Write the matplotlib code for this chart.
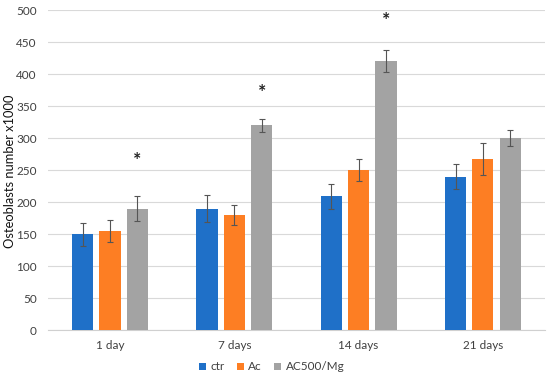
import matplotlib
matplotlib.use("Agg")
import matplotlib.pyplot as plt
import numpy as np

plt.rcParams['font.family'] = ['Lato', 'DejaVu Sans']

categories = ["1 day", "7 days", "14 days", "21 days"]
series_names = ["ctr", "Ac", "AC500/Mg"]
ctr = [150, 190, 209, 240]
ac = [155, 180, 250, 268]
ac500 = [190, 320, 420, 300]
ctr_err = [18, 21, 20, 19]
ac_err = [17, 15, 17, 25]
ac500_err = [20, 10, 17, 12]
star_values = [265, 372, 484]
star_categories = [0, 1, 2]

colors = ["#1F70C8", "#FD7E23", "#A3A3A3"]

fig = plt.figure(figsize=(5.5, 3.76), dpi=100)
ax = fig.add_axes([0.087, 0.122, 0.904, 0.851])

x = np.arange(len(categories))
w = 0.17
gap = 0.05
offsets = [-(w + gap), 0, (w + gap)]
data = [ctr, ac, ac500]
errs = [ctr_err, ac_err, ac500_err]
for i in range(3):
    ax.bar(x + offsets[i], data[i], width=w, color=colors[i], label=series_names[i], zorder=3)
    ax.errorbar(x + offsets[i], data[i], yerr=errs[i], fmt='none', ecolor='#555555',
                elinewidth=0.8, capsize=2.5, capthick=0.8, zorder=4)

for c, v in zip(star_categories, star_values):
    ax.text(x[c] + offsets[2], v, "*", ha='center', va='center', fontsize=14, color='#222222', fontweight='bold')

ax.set_xlim(-0.5, len(categories) - 0.5)
ax.set_ylim(0, 500)
ax.set_yticks(np.arange(0, 501, 50))
ax.set_xticks(x)
ax.set_xticklabels(categories)
ax.grid(axis='y', color='#D9D9D9', linewidth=0.8, zorder=0)
for s in ['top', 'right', 'left']:
    ax.spines[s].set_visible(False)
ax.spines['bottom'].set_color('#D0D0D0')
ax.tick_params(axis='y', length=0, labelsize=8.5, colors='#404040', pad=8)
ax.tick_params(axis='x', length=0, labelsize=8.5, colors='#404040', pad=7)
ax.set_ylabel("Osteoblasts number x1000", fontsize=9.3, color='#111111')
ax.yaxis.set_label_coords(-0.064, 0.497)

ax.legend(loc='center', bbox_to_anchor=(0.45, -0.115), ncol=3, frameon=False,
          fontsize=8.5, handlelength=0.6, handleheight=0.6, handletextpad=0.4, columnspacing=1.0,
          labelcolor='#404040')

fig.savefig("out.png", dpi=100)
